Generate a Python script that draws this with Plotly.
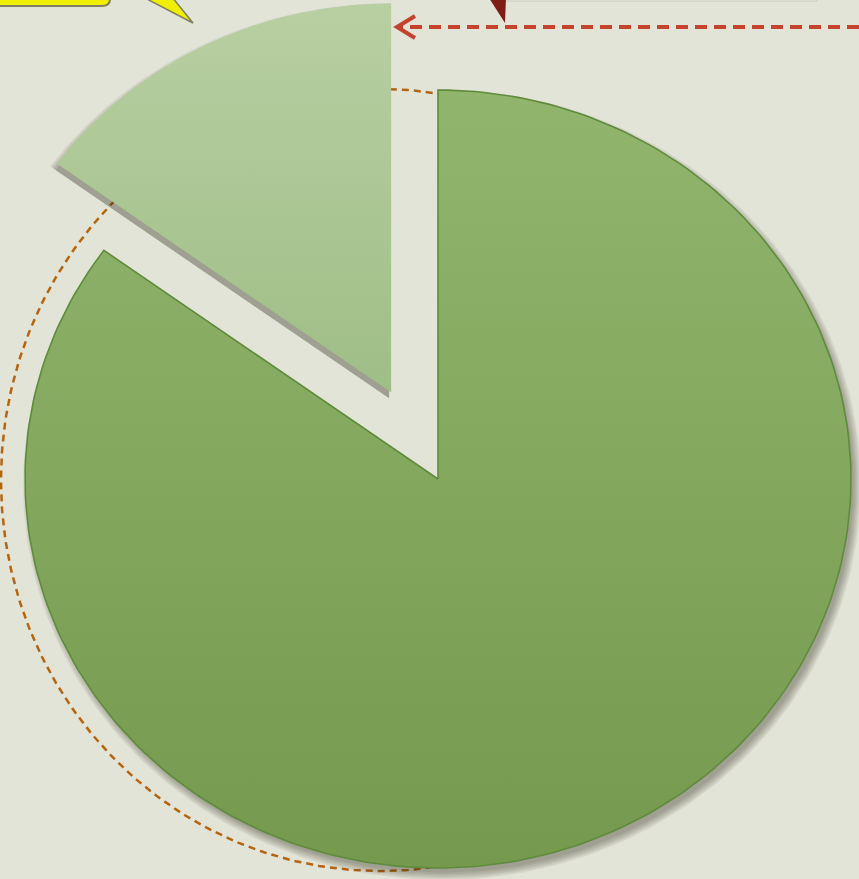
import numpy as np
import plotly.graph_objects as go

# ---- data ----
labels = ["Rest", "Highlighted share"]
values = [85, 15]
pulls = [0.0, 0.25]
colors_top = ["#91b56d", "#b8cfa2"]
colors_bottom = ["#759a4e", "#9fbe86"]
edge_colors = ["#5f8b3c", "rgba(0,0,0,0)"]

# ---- layout constants (pixel units) ----
W, H = 859, 879
CX, CY = 438, 479
RX, RY = 413, 389
BG = "#e2e4d7"

total = sum(values)
cum = np.concatenate([[0], np.cumsum(values)])


def slice_xy(i, dx=0.0, dy=0.0, grow=0.0):
    a0 = np.deg2rad(90 - 360 * cum[i] / total)
    a1 = np.deg2rad(90 - 360 * cum[i + 1] / total)
    mid = (a0 + a1) / 2
    ox = pulls[i] * RX * np.cos(mid)
    oy = -pulls[i] * RY * np.sin(mid)
    th = np.linspace(a0, a1, 240)
    xs = CX + ox + (RX + grow) * np.cos(th)
    ys = CY + oy - (RY + grow) * np.sin(th)
    x = np.concatenate([[CX + ox], xs, [CX + ox]]) + dx
    y = np.concatenate([[CY + oy], ys, [CY + oy]]) + dy
    return x, y


fig = go.Figure()

# dashed outline of the original position (behind the pie)
th = np.linspace(0, 2 * np.pi, 400)
fig.add_trace(go.Scatter(
    x=380 + 379 * np.cos(th), y=480 + 391 * np.sin(th), mode="lines",
    line=dict(color="#b5640f", width=2.5, dash="7px,5px"),
    hoverinfo="skip", showlegend=False))

# soft shadows
for i in range(len(values)):
    sx, sy = (4, 6) if i == 0 else (-2, 6)
    for g in [6, 4.5, 3, 1.5, 0, -1.5]:
        x, y = slice_xy(i, dx=sx, dy=sy, grow=g)
        fig.add_trace(go.Scatter(
            x=x, y=y, mode="lines", fill="toself",
            fillcolor="rgba(40,40,30,0.07)", line=dict(width=0),
            hoverinfo="skip", showlegend=False))

# slices
for i in range(len(values)):
    x, y = slice_xy(i)
    fig.add_trace(go.Scatter(
        x=x, y=y, mode="lines", fill="toself", name=labels[i],
        fillgradient=dict(type="vertical",
                          colorscale=[[0, colors_top[i]], [1, colors_bottom[i]]],
                          start=float(y.min()), stop=float(y.max())),
        line=dict(color=edge_colors[i], width=1.6),
        hoverinfo="name", showlegend=False))

shapes = [
    # light callout box edge at the top
    dict(type="rect", x0=505, x1=817, y0=-10, y1=1,
         fillcolor="#ecece4", line=dict(color="#c9cabd", width=1)),
    # dark red pointer of a callout
    dict(type="path", path="M 489 -2 L 506 -2 L 505 23 Z",
         fillcolor="#7e1d13", line=dict(width=0)),
    # red dashed arrow
    dict(type="line", x0=859, y0=27, x1=399, y1=27,
         line=dict(color="#c4432c", width=4, dash="12px,7px")),
    dict(type="path", path="M 415 16 L 397 27 L 415 38",
         line=dict(color="#c4432c", width=4)),
    # yellow callout
    dict(type="path", path="M -10 -10 L 110 -10 L 110 -1 Q 110 6 102 6 L -10 6 Z",
         fillcolor="#f0ef00", line=dict(color="#7f7f5f", width=2)),
    dict(type="path", path="M 143 -3 L 172 -3 L 193 23 Z",
         fillcolor="#f0ef00", line=dict(color="#7f7f5f", width=1.5)),
]

fig.update_layout(
    width=W, height=H,
    margin=dict(l=0, r=0, t=0, b=0),
    paper_bgcolor=BG, plot_bgcolor=BG,
    xaxis=dict(range=[0, W], visible=False, fixedrange=True),
    yaxis=dict(range=[H, 0], visible=False, fixedrange=True),
    shapes=shapes,
    showlegend=False,
)

fig.write_html(
    "out.html",
    config={"displayModeBar": False},
    post_script="document.body.style.margin='0';document.body.style.overflow='hidden';"
                "document.body.style.background='" + BG + "';",
)
